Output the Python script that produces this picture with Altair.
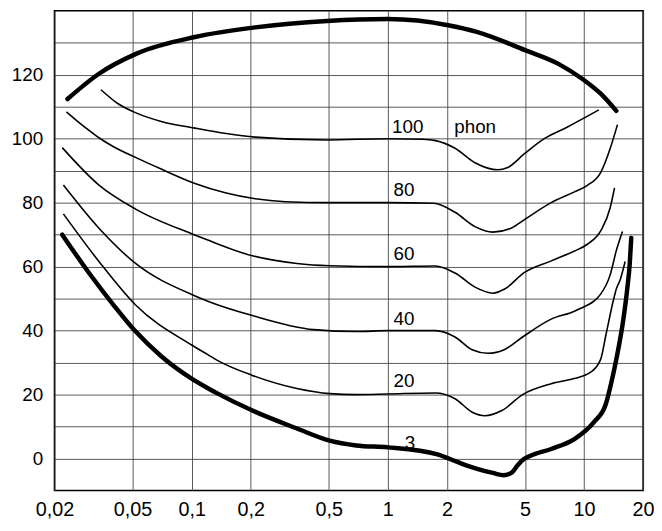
import altair as alt
import pandas as pd

# ---- data (frequency in kHz, level in dB) ----
pain_f = [0.0233, 0.0337, 0.0524, 0.104, 0.211, 0.49, 1.0, 2.06, 2.84, 5.0, 7.4, 9.9, 12.2, 14.6]
pain_db = [112.4, 120.3, 126.6, 131.8, 134.8, 136.8, 137.4, 135.4, 133.4, 127.7, 123.4, 118.5, 114.0, 108.7]

p100_f = [0.0345, 0.042, 0.0524, 0.070, 0.104, 0.150, 0.211, 0.49, 1.0, 1.5, 1.75, 2.2, 2.78, 3.63, 4.08, 4.97, 6.27, 8.19, 11.9]
p100_db = [115.3, 111.0, 108.0, 105.4, 103.3, 101.6, 100.5, 99.6, 100.0, 99.8, 99.4, 97.0, 92.5, 90.3, 91.0, 95.3, 100.0, 103.6, 109.0]

p80_f = [0.0230, 0.0265, 0.0300, 0.0337, 0.040, 0.0524, 0.070, 0.104, 0.150, 0.211, 0.30, 0.5, 1.0, 1.71, 2.2, 2.78, 3.43, 4.27, 4.97, 6.8, 8.88, 10.4, 12.15, 13.6, 14.8]
p80_db = [108.4, 105.2, 102.6, 100.3, 97.5, 94.0, 90.5, 86.0, 83.0, 81.2, 80.3, 80.0, 80.0, 79.8, 77.0, 72.5, 70.8, 72.1, 74.7, 80.0, 83.3, 85.4, 89.4, 97.0, 104.4]

p60_f = [0.0219, 0.0337, 0.0518, 0.1028, 0.1209, 0.204, 0.344, 0.505, 1.0, 1.75, 2.2, 2.78, 3.43, 3.94, 4.97, 6.8, 8.88, 10.4, 12.2, 13.6, 14.3]
p60_db = [97.2, 85.5, 78.0, 70.0, 68.3, 63.4, 61.0, 60.3, 60.0, 60.2, 58.0, 53.6, 51.7, 53.0, 58.2, 61.8, 64.8, 67.0, 71.3, 78.5, 84.6]

p40_f = [0.0222, 0.0337, 0.0518, 0.1028, 0.1209, 0.204, 0.419, 0.69, 1.0, 1.75, 2.2, 2.69, 3.23, 3.94, 4.86, 6.8, 8.88, 9.63, 12.15, 13.6, 14.6, 15.7]
p40_db = [85.5, 72.0, 61.0, 51.0, 49.2, 44.7, 40.3, 39.7, 40.0, 40.0, 38.0, 34.0, 32.9, 34.1, 38.0, 43.6, 46.0, 47.0, 51.4, 57.5, 65.0, 71.0]

p20_f = [0.0222, 0.0337, 0.0518, 0.1, 0.1209, 0.136, 0.204, 0.344, 0.505, 0.69, 1.0, 1.75, 2.2, 2.69, 3.12, 3.81, 4.86, 6.8, 8.88, 10.8, 12.15, 13.0, 14.1, 14.6, 15.3, 16.2]
p20_db = [76.5, 61.6, 48.0, 35.5, 32.5, 30.6, 26.0, 21.9, 20.3, 20.0, 20.2, 20.5, 18.7, 14.5, 13.4, 15.0, 20.0, 23.4, 25.0, 27.0, 31.0, 39.4, 49.4, 53.0, 56.0, 61.6]

p3_f = [0.0219, 0.030, 0.040, 0.0513, 0.070, 0.1, 0.121, 0.136, 0.204, 0.344, 0.505, 0.69, 1.0, 1.79, 2.31, 2.88, 3.43, 3.9, 4.3, 4.6, 4.9, 5.3, 6.8, 8.88, 11.2, 12.9, 13.8, 14.6, 15.9, 16.6, 17.1, 17.4]
p3_db = [70.0, 58.0, 48.0, 40.0, 32.0, 25.0, 22.0, 20.3, 15.0, 9.4, 5.6, 4.1, 3.5, 1.3, -1.3, -3.3, -4.5, -5.2, -4.3, -2.0, -0.3, 0.8, 3.0, 6.0, 11.3, 17.0, 24.0, 31.0, 44.0, 53.0, 61.0, 69.0]

label_text = ["100", "phon", "80", "60", "40", "20", "3"]
label_f = [1.05, 2.18, 1.07, 1.07, 1.07, 1.07, 1.22]
label_db = [103.5, 103.5, 84.0, 64.0, 43.6, 24.2, 4.7]

x_ticks = [0.02, 0.05, 0.1, 0.2, 0.5, 1, 2, 5, 10, 20]
y_grid = [0, 10, 20, 30, 40, 50, 60, 70, 80, 90, 100, 110, 120, 130]
y_labels = [0, 20, 40, 60, 80, 100, 120]

# ---- build tables ----
thin_curves = [("100", p100_f, p100_db), ("80", p80_f, p80_db), ("60", p60_f, p60_db),
               ("40", p40_f, p40_db), ("20", p20_f, p20_db)]
thick_curves = [("pain", pain_f, pain_db), ("3", p3_f, p3_db)]


def table(curves):
    rows = []
    for name, fs, dbs in curves:
        for i, (f, d) in enumerate(zip(fs, dbs)):
            rows.append({"curve": name, "f": f, "db": d, "order": i})
    return pd.DataFrame(rows)


thin_df = table(thin_curves)
thick_df = table(thick_curves)
label_df = pd.DataFrame({"f": label_f, "db": label_db, "text": label_text})

FONT = "Liberation Sans"
label_list = "[" + ",".join(str(v) for v in y_labels) + "]"

x_enc = alt.X(
    "f:Q",
    scale=alt.Scale(type="log", domain=[0.02, 20], nice=False),
    axis=alt.Axis(
        values=x_ticks,
        labelExpr="replace(toString(datum.value), '.', ',')",
        title=None,
        labelPadding=9,
        labelFontSize=20,
        labelOverlap=False,
        labelFlush=False,
    ),
)
y_enc = alt.Y(
    "db:Q",
    scale=alt.Scale(domain=[-10, 140], nice=False, zero=False),
    axis=alt.Axis(
        values=y_grid,
        labelExpr="indexof(" + label_list + ", datum.value) >= 0 ? toString(datum.value) : ''",
        title=None,
        labelPadding=12,
        labelOverlap=False,
        labelFlush=False,
    ),
)

thin = alt.Chart(thin_df).mark_line(
    color="black", strokeWidth=1.6, interpolate="monotone"
).encode(x=x_enc, y=y_enc, detail="curve:N", order="order:Q")

thick = alt.Chart(thick_df).mark_line(
    color="black", strokeWidth=4.5, interpolate="monotone", strokeCap="round"
).encode(x=x_enc, y=y_enc, detail="curve:N", order="order:Q")

labels = alt.Chart(label_df).mark_text(
    align="left", baseline="middle", fontSize=19, font=FONT, color="black"
).encode(x=x_enc, y=y_enc, text="text:N")

chart = (
    alt.layer(thin, thick, labels)
    .properties(
        width=595,
        height=485,
        autosize=alt.AutoSizeParams(type="none"),
        padding={"left": 47, "top": 0, "right": 11, "bottom": 27},
    )
    .configure_view(stroke="black", strokeWidth=1.6)
    .configure_axis(
        grid=True,
        gridColor="#3c3c3c",
        gridWidth=1,
        gridOpacity=0.85,
        domain=False,
        ticks=False,
        tickSize=0,
        labelFont=FONT,
        labelFontSize=19,
        labelColor="black",
    )
)

chart.save("out.html", embed_options={"renderer": "svg", "actions": False})
